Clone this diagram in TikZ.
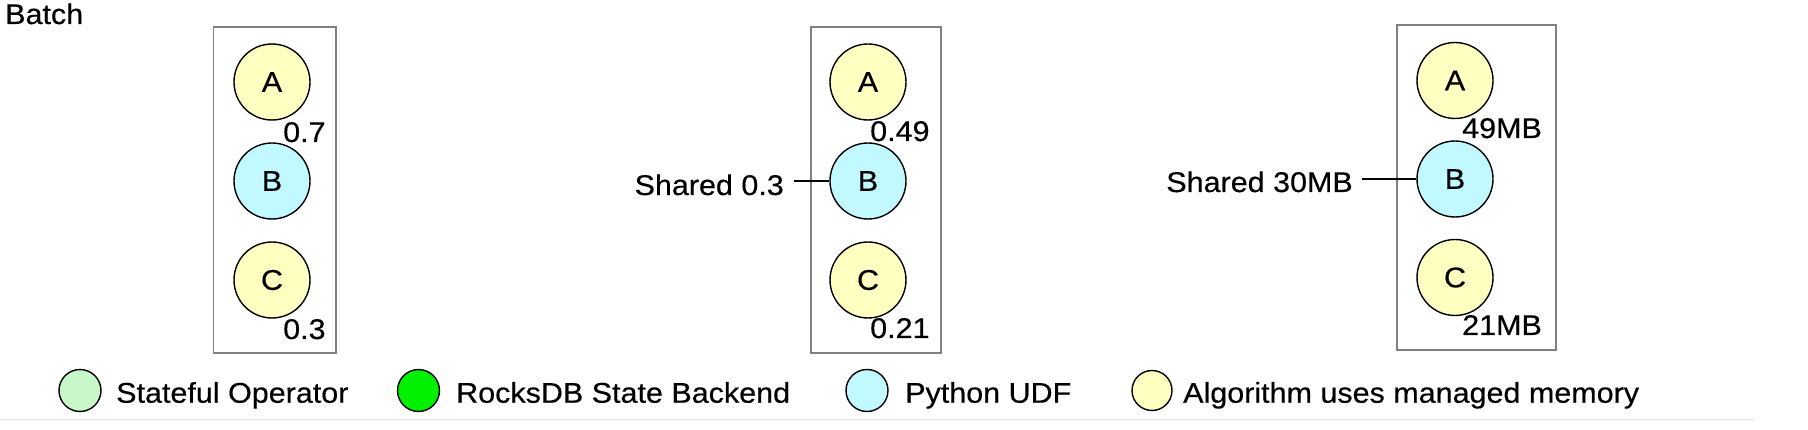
\documentclass[tikz,border=0pt]{standalone}
\usepackage{fontspec}
\setmainfont{Liberation Sans}[FakeStretch=1.07,FakeBold=0.4]
\definecolor{yel}{HTML}{FFFFC2}
\definecolor{cya}{HTML}{C2F8FF}
\definecolor{lgr}{HTML}{C8F8CA}
\definecolor{grn}{HTML}{00F000}
\definecolor{boxgray}{HTML}{808080}
\definecolor{rule}{HTML}{E2E2E2}
\tikzset{
  txt/.style={inner sep=0pt, font=\fontsize{28.5}{34}\selectfont},
  op/.style={circle, draw=black, line width=1.4pt, minimum size=76pt, inner sep=0pt, font=\fontsize{28.5}{34}\selectfont},
  leg/.style={circle, draw=black, line width=1.4pt, minimum size=42pt, inner sep=0pt},
  slot/.style={draw=boxgray, line width=1.4pt},
  conn/.style={line width=1.3pt, black}
}
\begin{document}
\begin{tikzpicture}[x=1pt,y=-1pt]
\useasboundingbox (0,0) rectangle (1808,430);
% title
\node[txt, anchor=base west] (title) at (5,24) {Batch};
% slot 1
\draw[slot] (213.5,27) rectangle (336,353);
\node[op, fill=yel] (A1) at (272,82) {A};
\node[op, fill=cya] (B1) at (272,181) {B};
\node[op, fill=yel] (C1) at (272,280) {C};
\node[txt, anchor=base west] (a1) at (283,142) {0.7};
\node[txt, anchor=base west] (c1) at (283,339) {0.3};
% slot 2
\draw[slot] (811,27) rectangle (941,353);
\node[op, fill=yel] (A2) at (868,82) {A};
\node[op, fill=cya] (B2) at (868,181) {B};
\node[op, fill=yel] (C2) at (868,280) {C};
\node[txt, anchor=base west] (a2) at (870,141) {0.49};
\node[txt, anchor=base west] (c2) at (870,338) {0.21};
\node[txt, anchor=base east] (s2) at (784,195) {Shared 0.3};
\draw[conn] ([xshift=10pt]B2 -| s2.east) -- (B2.west);
% slot 3
\draw[slot] (1397,25) rectangle (1556,350);
\node[op, fill=yel] (A3) at (1455,80.5) {A};
\node[op, fill=cya] (B3) at (1455,179) {B};
\node[op, fill=yel] (C3) at (1455,277.5) {C};
\node[txt, anchor=base west] (a3) at (1462,138) {49MB};
\node[txt, anchor=base west] (c3) at (1462,335) {21MB};
\node[txt, anchor=base east] (s3) at (1353,192) {Shared 30MB};
\draw[conn] ([xshift=9pt]B3 -| s3.east) -- (B3.west);
% legend
\node[leg, fill=lgr] (l1) at (80,390.5) {};
\node[txt, anchor=base west] (t1) at (116,402.7) {Stateful Operator};
\node[leg, fill=grn] (l2) at (418.5,390.5) {};
\node[txt, anchor=base west] (t2) at (456,402.7) {RocksDB State Backend};
\node[leg, fill=cya] (l3) at (867,390.5) {};
\node[txt, anchor=base west] (t3) at (905,402.7) {Python UDF};
\node[leg, fill=yel, minimum size=40pt] (l4) at (1152,390.5) {};
\node[txt, anchor=base west] (t4) at (1183,402.7) {Algorithm uses managed memory};
% bottom rule
\draw[rule, line width=1.5pt] (0,419.3) -- (1754,419.3);
\end{tikzpicture}
\end{document}
